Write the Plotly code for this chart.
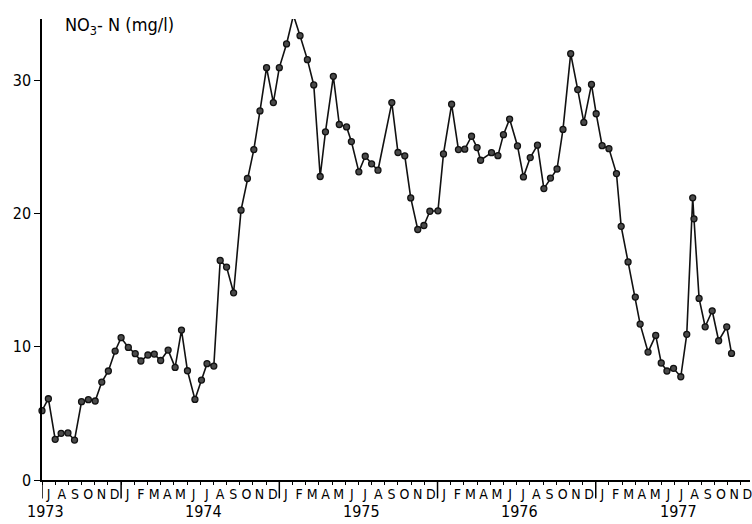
import calendar
import plotly.graph_objects as go

# Nitrate-nitrogen concentration, sampled roughly twice a month, Jul 1973 - Nov 1977
sample_dates = [
    "1973-07-01", "1973-07-16", "1973-08-01", "1973-08-15", "1973-08-31", "1973-09-15",
    "1973-10-01", "1973-10-17", "1973-11-02", "1973-11-17", "1973-12-02", "1973-12-18",
    "1974-01-01", "1974-01-18", "1974-02-03", "1974-02-15", "1974-03-02", "1974-03-17",
    "1974-04-01", "1974-04-18", "1974-05-04", "1974-05-19", "1974-06-02", "1974-06-19",
    "1974-07-04", "1974-07-17", "1974-08-02", "1974-08-17", "1974-09-01", "1974-09-17",
    "1974-10-04", "1974-10-19", "1974-11-03", "1974-11-17", "1974-12-02", "1974-12-18",
    "1975-01-01", "1975-01-18", "1975-02-03", "1975-02-17", "1975-03-05", "1975-03-20",
    "1975-04-04", "1975-04-16", "1975-05-04", "1975-05-18", "1975-06-04", "1975-06-15",
    "1975-07-02", "1975-07-17", "1975-08-01", "1975-08-16", "1975-09-17", "1975-10-01",
    "1975-10-17", "1975-10-31", "1975-11-16", "1975-11-30", "1975-12-14",
    "1976-01-02", "1976-01-15", "1976-02-03", "1976-02-18", "1976-03-03", "1976-03-19",
    "1976-04-01", "1976-04-09", "1976-05-04", "1976-05-19", "1976-06-01", "1976-06-15",
    "1976-07-03", "1976-07-17", "1976-08-02", "1976-08-19", "1976-09-03", "1976-09-18",
    "1976-10-03", "1976-10-17", "1976-11-04", "1976-11-20", "1976-12-04", "1976-12-22",
    "1977-01-02", "1977-01-16", "1977-02-01", "1977-02-17", "1977-02-27", "1977-03-15",
    "1977-04-01", "1977-04-12", "1977-04-30", "1977-05-18", "1977-05-31", "1977-06-13",
    "1977-06-28", "1977-07-15", "1977-07-29", "1977-08-12", "1977-08-15", "1977-08-27",
    "1977-09-10", "1977-09-26", "1977-10-11", "1977-10-30", "1977-11-10",
]
no3_n = [
    5.2, 6.1, 3.05, 3.5, 3.53, 3.0,
    5.88, 6.03, 5.93, 7.35, 8.18, 9.68,
    10.68, 9.95, 9.48, 8.93, 9.38, 9.45,
    8.97, 9.75, 8.45, 11.25, 8.2, 6.05,
    7.5, 8.73, 8.55, 16.48, 15.98, 14.05,
    20.25, 22.63, 24.8, 27.7, 30.95, 28.33,
    30.95, 32.73, 34.88, 33.35, 31.55, 29.65,
    22.78, 26.13, 30.3, 26.68, 26.5, 25.4,
    23.13, 24.3, 23.73, 23.25, 28.33, 24.58,
    24.33, 21.17, 18.8, 19.1, 20.17,
    20.2, 24.47, 28.2, 24.8, 24.83, 25.8,
    24.95, 24.0, 24.57, 24.34, 25.92, 27.09,
    25.07, 22.75, 24.2, 25.13, 21.87, 22.66,
    23.34, 26.31, 32.0, 29.3, 26.84, 29.69,
    27.49, 25.09, 24.87, 23.0, 19.04, 16.37,
    13.73, 11.7, 9.6, 10.85, 8.78, 8.18,
    8.38, 7.75, 10.93, 21.18, 19.6, 13.63,
    11.5, 12.7, 10.45, 11.5, 9.5,
]

month_letters = ["J", "A", "S", "O", "N", "D"] + ["J", "F", "M", "A", "M", "J",
                                                 "J", "A", "S", "O", "N", "D"] * 4
years = ["1973", "1974", "1975", "1976", "1977"]
y_ticks = [0, 10, 20, 30]

START_YEAR, START_MONTH = 1973, 7


def month_position(date_str):
    """Months elapsed since 1 July 1973, with the day as a fraction of its month."""
    y, m, d = (int(p) for p in date_str.split("-"))
    days = calendar.monthrange(y, m)[1]
    return (y - START_YEAR) * 12 + (m - START_MONTH) + (d - 1) / days


x_pos = [month_position(s) for s in sample_dates]
n_months = len(month_letters)

FONT = "DejaVu Sans Condensed, Liberation Sans Narrow, Arial Narrow, sans-serif"

fig = go.Figure()
fig.add_trace(go.Scatter(
    x=x_pos, y=no3_n, mode="lines+markers",
    line=dict(color="#111111", width=1.6),
    marker=dict(size=6, color="#4a4a4a", line=dict(color="#111111", width=1.3)),
    cliponaxis=False, showlegend=False,
))

# year boundaries: a tall stroke dropping through the month letters
shapes = []
year_starts = [0] + [6 + 12 * k for k in range(4)]
for xs in year_starts:
    shapes.append(dict(type="line", xref="x", yref="paper", x0=xs, x1=xs,
                       y0=0, y1=-0.04, line=dict(color="black", width=1.5)))

# year labels centred under each year (the partial first year sits at its start)
annotations = []
for i, yr in enumerate(years):
    if i == 0:
        xc = 0.25
    else:
        xc = 6 + 12 * (i - 1) + 6.25
    annotations.append(dict(text=yr, x=xc, y=-0.069, xref="x", yref="paper",
                            showarrow=False, font=dict(size=16, color="black", family=FONT),
                            xanchor="center", yanchor="middle"))

annotations.append(dict(text="NO<sub>3</sub>- N (mg/l)", x=0.029, y=0.984,
                        xref="paper", yref="paper", xanchor="left", yanchor="middle",
                        showarrow=False, font=dict(size=18, color="black", family=FONT)))

fig.update_layout(
    width=752, height=524,
    margin=dict(l=42, r=0, t=19, b=44),
    paper_bgcolor="white", plot_bgcolor="white",
    shapes=shapes, annotations=annotations,
    font=dict(family=FONT, color="black"),
    xaxis=dict(
        range=[0, 53.7], showgrid=False, zeroline=False,
        showline=True, linecolor="black", linewidth=1.5,
        tickvals=[i + 0.5 for i in range(n_months)], ticktext=month_letters,
        ticks="", tickfont=dict(size=14, family=FONT, color="black"),
        ticklabeloverflow="allow",
        minor=dict(tick0=0, dtick=1, ticks="outside", ticklen=3,
                   tickcolor="black", tickwidth=1),
    ),
    yaxis=dict(
        range=[0, 34.6], showgrid=False, zeroline=False,
        showline=True, linecolor="black", linewidth=1.5,
        tickvals=y_ticks, ticks="outside", ticklen=6, tickwidth=1.3,
        tickcolor="black", tickfont=dict(size=16, family=FONT, color="black"),
    ),
)

fig.write_html("out.html")
